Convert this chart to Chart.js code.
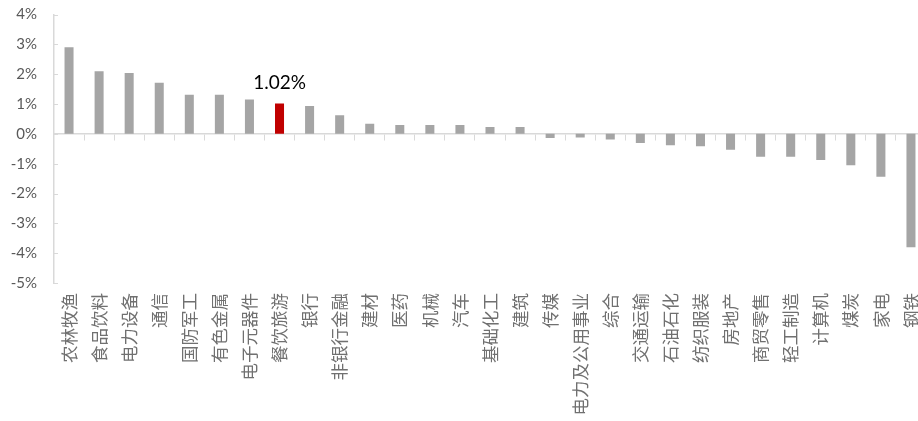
<!DOCTYPE html>
<html>
<head>
<meta charset="utf-8">
<script src="https://cdn.jsdelivr.net/npm/chart.js@4"></script>
<style>
  html, body { margin: 0; padding: 0; background: #fff; overflow: hidden; }
  #wrap { width: 926px; height: 421px; position: relative; }
</style>
</head>
<body>
<div id="wrap"><canvas id="c"></canvas></div>
<script>
const categories = ["农林牧渔","食品饮料","电力设备","通信","国防军工","有色金属","电子元器件","餐饮旅游","银行","非银行金融","建材","医药","机械","汽车","基础化工","建筑","传媒","电力及公用事业","综合","交通运输","石油石化","纺织服装","房地产","商贸零售","轻工制造","计算机","煤炭","家电","钢铁"];
const values = [2.90,2.10,2.04,1.71,1.31,1.31,1.15,1.02,0.93,0.62,0.34,0.30,0.30,0.30,0.23,0.23,-0.14,-0.12,-0.19,-0.31,-0.38,-0.42,-0.53,-0.77,-0.77,-0.88,-1.05,-1.44,-3.80];
const highlight = "餐饮旅游";
const yMin = -5, yMax = 4, yStep = 1;

const barColors = categories.map(c => c === highlight ? '#c00000' : '#a5a5a5');

const extras = {
  id: 'extras',
  afterDatasetsDraw(chart) {
    const ctx = chart.ctx;
    const ys = chart.scales.y;
    const area = chart.chartArea;
    ctx.save();
    ctx.strokeStyle = '#d9d9d9';
    ctx.lineWidth = 1;
    ys.ticks.forEach(t => {
      const py = Math.round(ys.getPixelForValue(t.value)) + 0.5;
      ctx.beginPath();
      ctx.moveTo(area.left, py);
      ctx.lineTo(area.left + 4, py);
      ctx.stroke();
    });
    const idx = categories.indexOf(highlight);
    const el = chart.getDatasetMeta(0).data[idx];
    ctx.fillStyle = '#000';
    ctx.font = '19px Lato, "Noto Sans", sans-serif';
    ctx.textAlign = 'center';
    ctx.textBaseline = 'alphabetic';
    ctx.fillText(values[idx].toFixed(2) + '%', el.x, el.y - 14);
    ctx.restore();
  }
};

new Chart(document.getElementById('c'), {
  type: 'bar',
  data: {
    labels: categories,
    datasets: [{
      data: values,
      backgroundColor: barColors,
      borderWidth: 0,
      categoryPercentage: 1,
      barPercentage: 0.3,
      xAxisID: 'x',
      yAxisID: 'y'
    }]
  },
  options: {
    responsive: true,
    maintainAspectRatio: false,
    animation: false,
    layout: { padding: { top: 14.5, right: 0, left: 0, bottom: 0 } },
    plugins: { legend: { display: false }, tooltip: { enabled: false } },
    scales: {
      x: {
        type: 'category',
        position: { y: 0 },
        offset: true,
        z: 1,
        grid: { display: true, offset: true, drawOnChartArea: false, drawTicks: true, tickLength: 6, color: '#d9d9d9', lineWidth: 1 },
        border: { display: true, color: '#d9d9d9', width: 1.5 },
        ticks: { display: false },
        afterFit(scale) { scale.paddingLeft = 0; scale.paddingRight = 0; scale.paddingTop = 0; scale.paddingBottom = 0; }
      },
      x2: {
        type: 'category',
        position: 'bottom',
        offset: true,
        grid: { display: false, drawTicks: false },
        border: { display: false },
        ticks: {
          autoSkip: false,
          maxRotation: 90,
          minRotation: 90,
          padding: 10,
          color: '#707070',
          font: { family: '"Noto Sans CJK SC", sans-serif', size: 17.5 }
        },
        afterFit(scale) { scale.height = 138; scale.paddingLeft = 0; scale.paddingRight = 0; }
      },
      y: {
        min: yMin,
        max: yMax,
        position: 'left',
        grid: { display: false, drawTicks: false },
        border: { display: true, color: '#d9d9d9', width: 1.5 },
        ticks: {
          stepSize: yStep,
          padding: 17,
          color: '#595959',
          font: { family: 'Lato, "Noto Sans", sans-serif', size: 15 },
          callback: v => v + '%'
        },
        afterFit(scale) { scale.width = 54; scale.paddingTop = 0; scale.paddingBottom = 0; }
      }
    }
  },
  plugins: [extras]
});
</script>
</body>
</html>
